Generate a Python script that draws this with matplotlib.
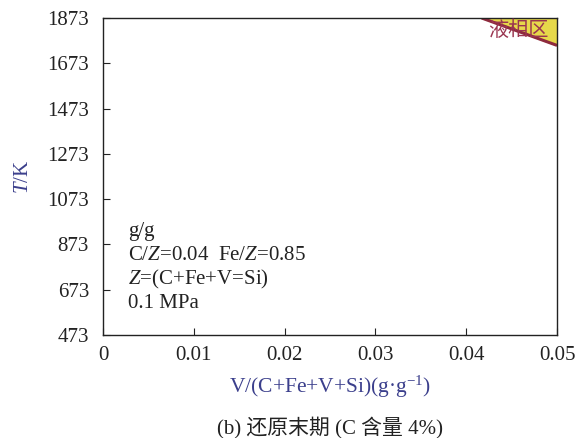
import matplotlib
matplotlib.use("Agg")
import matplotlib.pyplot as plt

plt.rcParams['font.family'] = ['Liberation Serif', 'Noto Sans CJK SC']
plt.rcParams['mathtext.fontset'] = 'custom'
plt.rcParams['mathtext.rm'] = 'Liberation Serif'
plt.rcParams['mathtext.it'] = 'Liberation Serif:italic'

# data
x_ticks = [0, 0.01, 0.02, 0.03, 0.04, 0.05]
x_ticklabels = ["0", "0.01", "0.02", "0.03", "0.04", "0.05"]
y_ticks = [473, 673, 873, 1073, 1273, 1473, 1673, 1873]
liquid_x = [0.0417, 0.05]
liquid_y = [1873, 1752]

fig = plt.figure(figsize=(5.81, 4.38), dpi=100)
ax = fig.add_axes([0.1773, 0.2352, 0.9587 - 0.1773, 0.9589 - 0.2352])
ax.set_xlim(0, 0.05)
ax.set_ylim(473, 1873)

ax.fill_between(liquid_x, liquid_y, [1873] * len(liquid_x), color='#e6d84a', zorder=1)
ax.plot(liquid_x, liquid_y, color='#8e2a3e', lw=2.2, zorder=2, solid_capstyle='butt')
ax.text(0.0457, 1818, "液相区", color='#9a3550', fontsize=14.5, ha='center', va='center',
        family=['Noto Sans CJK SC'], zorder=3)

ax.set_xticks(x_ticks)
ax.set_xticklabels(x_ticklabels)
ax.set_yticks(y_ticks)
ax.tick_params(direction='in', length=5, width=0.8, labelsize=15, colors='#222222')
ax.tick_params(axis='y', pad=10)
ax.tick_params(axis='x', pad=8)
for s in ax.spines.values():
    s.set_linewidth(1.0)
    s.set_color('#222222')

lab_col = '#3b3f8c'
ax.set_xlabel(r"V/(C+Fe+V+Si)(g·g$^{-1}$)", fontsize=15.5, color=lab_col, labelpad=6)
ax.set_ylabel(r"$T$/K", fontsize=15, color=lab_col, va='center')
ax.yaxis.set_label_coords(-0.175, 0.50)

txt_lines = ["g/g", r"C/$Z$=0.04  Fe/$Z$=0.85", r"$Z$=(C+Fe+V=Si)", "0.1 MPa"]
y0 = 0.325
for i, t in enumerate(txt_lines):
    ax.text(0.055, y0 - i * 0.0757, t, transform=ax.transAxes, fontsize=15,
            color='#222222', va='center', ha='left')

fig.text(0.568, 0.023, "(b) 还原末期 (C 含量 4%)", fontsize=15, ha='center', va='center',
         color='#222222', family=['Liberation Serif', 'Noto Sans CJK SC'])

fig.savefig("out.png", dpi=100)
